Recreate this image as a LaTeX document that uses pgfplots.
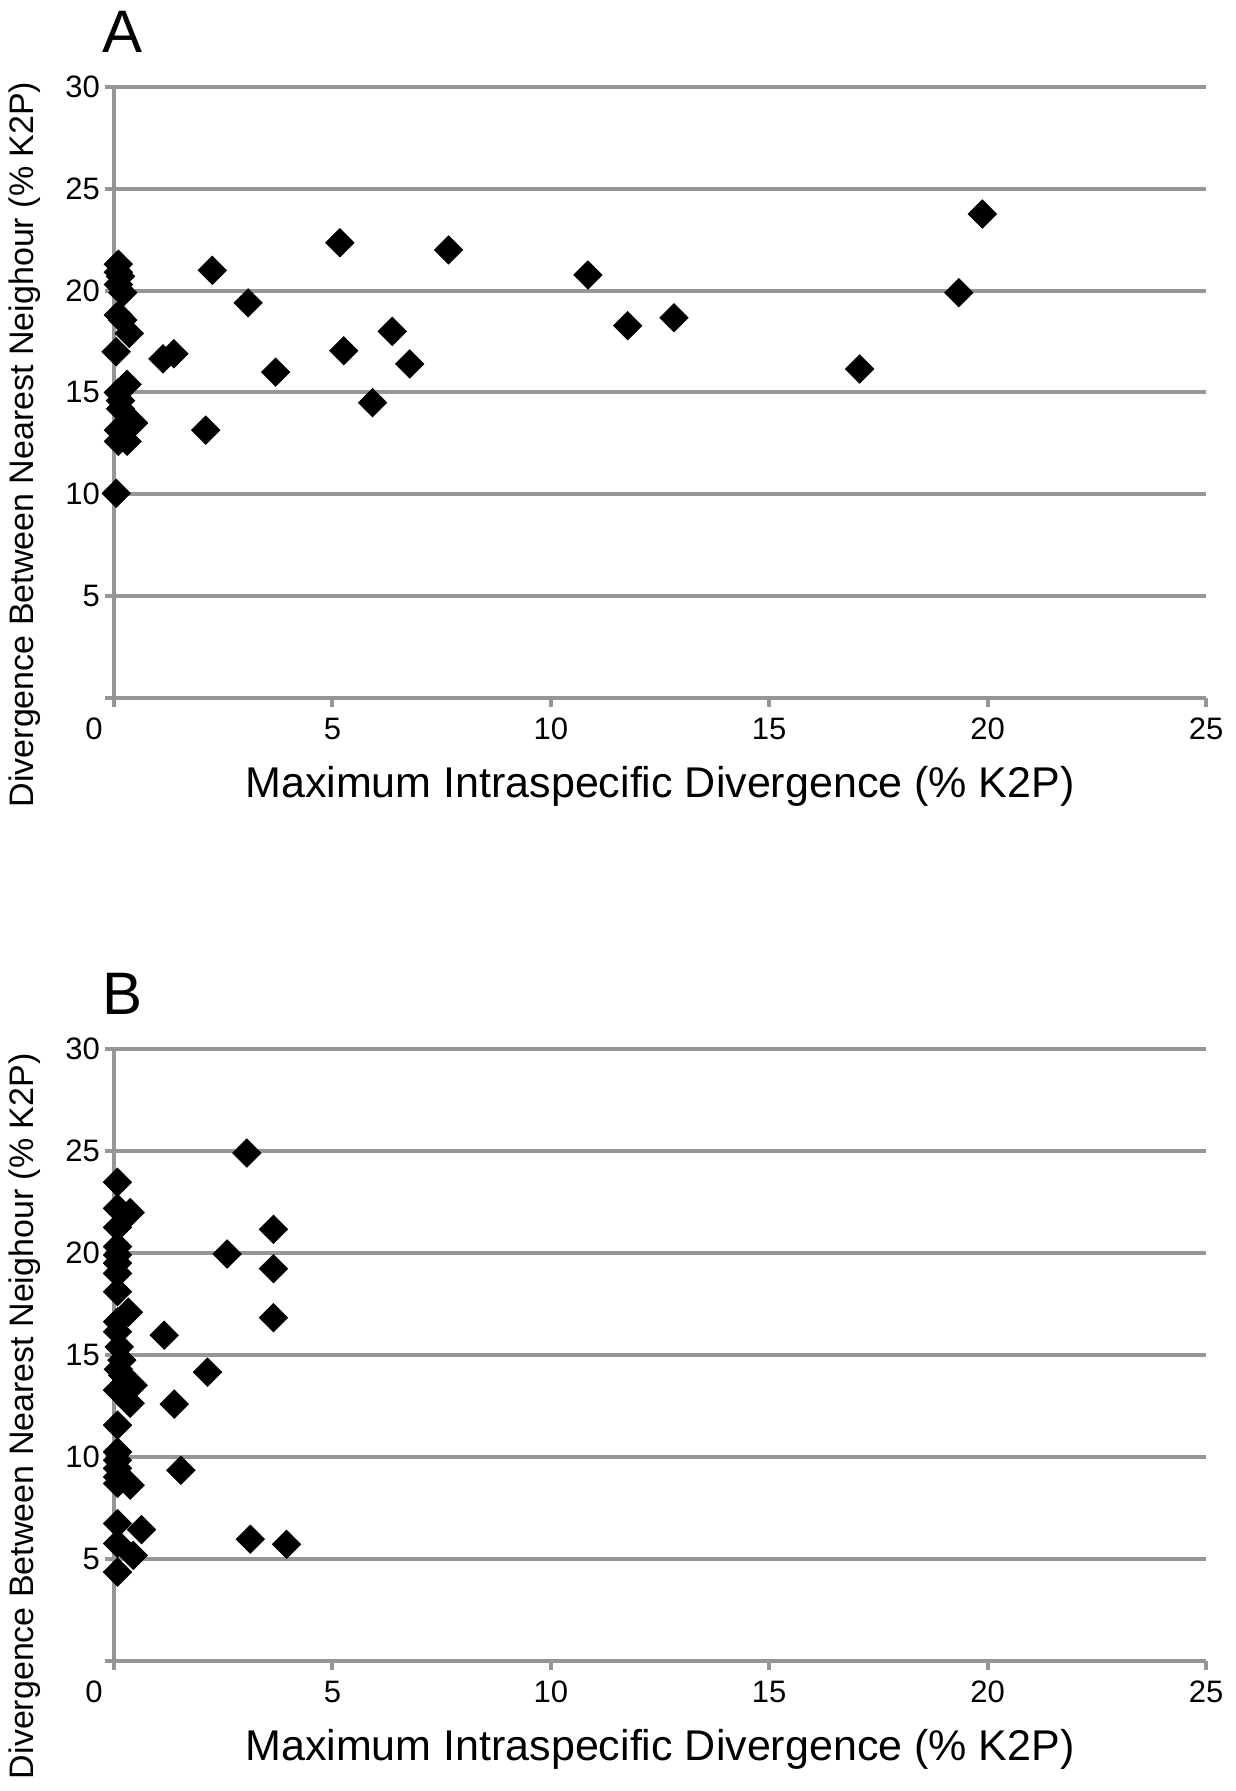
\documentclass[border=0pt]{standalone}
\usepackage{fontspec}
\setmainfont{Liberation Sans}
\usepackage{pgfplots}
\usepackage{pgfplotstable}
\pgfplotsset{compat=1.18}

\definecolor{axisgray}{RGB}{152,149,149}

% panel A: max intraspecific vs nearest neighbour
\pgfplotstableread{
x y
0.10 21.30
0.10 20.90
0.15 20.70
0.10 20.30
0.20 19.90
0.10 18.80
0.20 18.55
0.35 17.90
0.05 17.00
0.30 15.40
0.10 15.00
0.15 14.60
0.15 14.20
0.45 13.50
0.10 13.15
0.30 12.60
0.10 12.60
0.05 10.05
1.12 16.65
1.37 16.90
2.10 13.15
2.25 21.00
3.07 19.40
3.70 16.00
5.17 22.35
5.26 17.05
5.92 14.50
6.37 18.00
6.77 16.40
7.66 22.00
10.85 20.77
11.76 18.28
12.82 18.67
17.07 16.15
19.34 19.90
19.88 23.76
}\dataA

% panel B
\pgfplotstableread{
x y
0.08 23.47
0.08 22.19
0.37 21.98
0.08 21.26
0.08 20.31
0.08 19.90
0.08 19.50
0.08 19.00
0.08 18.10
0.33 17.10
0.08 16.63
0.08 16.14
0.12 15.40
0.18 14.75
0.10 14.30
0.20 14.00
0.29 13.69
0.44 13.52
0.08 13.28
0.37 12.63
0.08 11.56
0.08 10.25
0.08 9.84
0.08 9.44
0.08 9.02
0.37 8.62
0.08 8.70
0.08 6.74
0.63 6.44
0.08 5.76
0.44 5.18
0.08 4.36
1.15 15.97
1.38 12.59
1.53 9.35
2.14 14.16
2.59 19.95
3.04 24.90
3.12 5.97
3.65 21.16
3.65 19.23
3.65 16.83
3.95 5.72
}\dataB

\pgfplotsset{
  divplot/.style={
    scale only axis,
    width=546pt, height=305.5pt,
    anchor=south west,
    xmin=0, xmax=25, ymin=0, ymax=30,
    axis x line=bottom, axis y line=left,
    axis line style={-, draw=axisgray, line width=2pt},
    xtick={5,10,15,20,25},
    extra x ticks={0},
    extra x tick style={xticklabel style={xshift=-10pt}, grid=none},
    ytick={0,5,10,15,20,25,30},
    yticklabels={,5,10,15,20,25,30},
    tick align=outside,
    major tick length=4.5pt,
    tick style={draw=axisgray, line width=2pt},
    ymajorgrids,
    major grid style={draw=axisgray, line width=2pt},
    /pgf/number format/assume math mode=true,
    tick label style={font=\fontsize{15.5}{18}\selectfont},
    xticklabel style={yshift=-2pt},
    yticklabel style={xshift=1pt},
    xlabel={Maximum Intraspecific Divergence (\% K2P)},
    xlabel style={font=\fontsize{21.5}{26}\selectfont,
      at={(axis description cs:0.5,0)}, anchor=center, yshift=-44pt},
    ylabel={Divergence Between Nearest Neighour (\% K2P)},
    ylabel style={font=\fontsize{17}{20}\selectfont, anchor=center},
    clip=false,
  },
  dmark/.style={only marks, mark=square*, mark size=5pt,
    mark options={rotate=45, draw=black, fill=black}},
}

\begin{document}
\begin{tikzpicture}
\path[fill=white] (0,0) rectangle (617.5pt,895.5pt);

\begin{axis}[divplot, at={(57pt,546.5pt)},
  ylabel style={at={(axis description cs:-0.0815,0.415)}}]
  \addplot[dmark] table[x=x, y=y] {\dataA};
\end{axis}

\begin{axis}[divplot, at={(57pt,65pt)}, height=306pt,
  ylabel style={at={(axis description cs:-0.0815,0.40)}}]
  \addplot[dmark] table[x=x, y=y] {\dataB};
\end{axis}

\node[font=\fontsize{30}{36}\selectfont] at (61.5pt,879.5pt) {A};
\node[font=\fontsize{30}{36}\selectfont] at (61.5pt,398.5pt) {B};
\end{tikzpicture}
\end{document}
